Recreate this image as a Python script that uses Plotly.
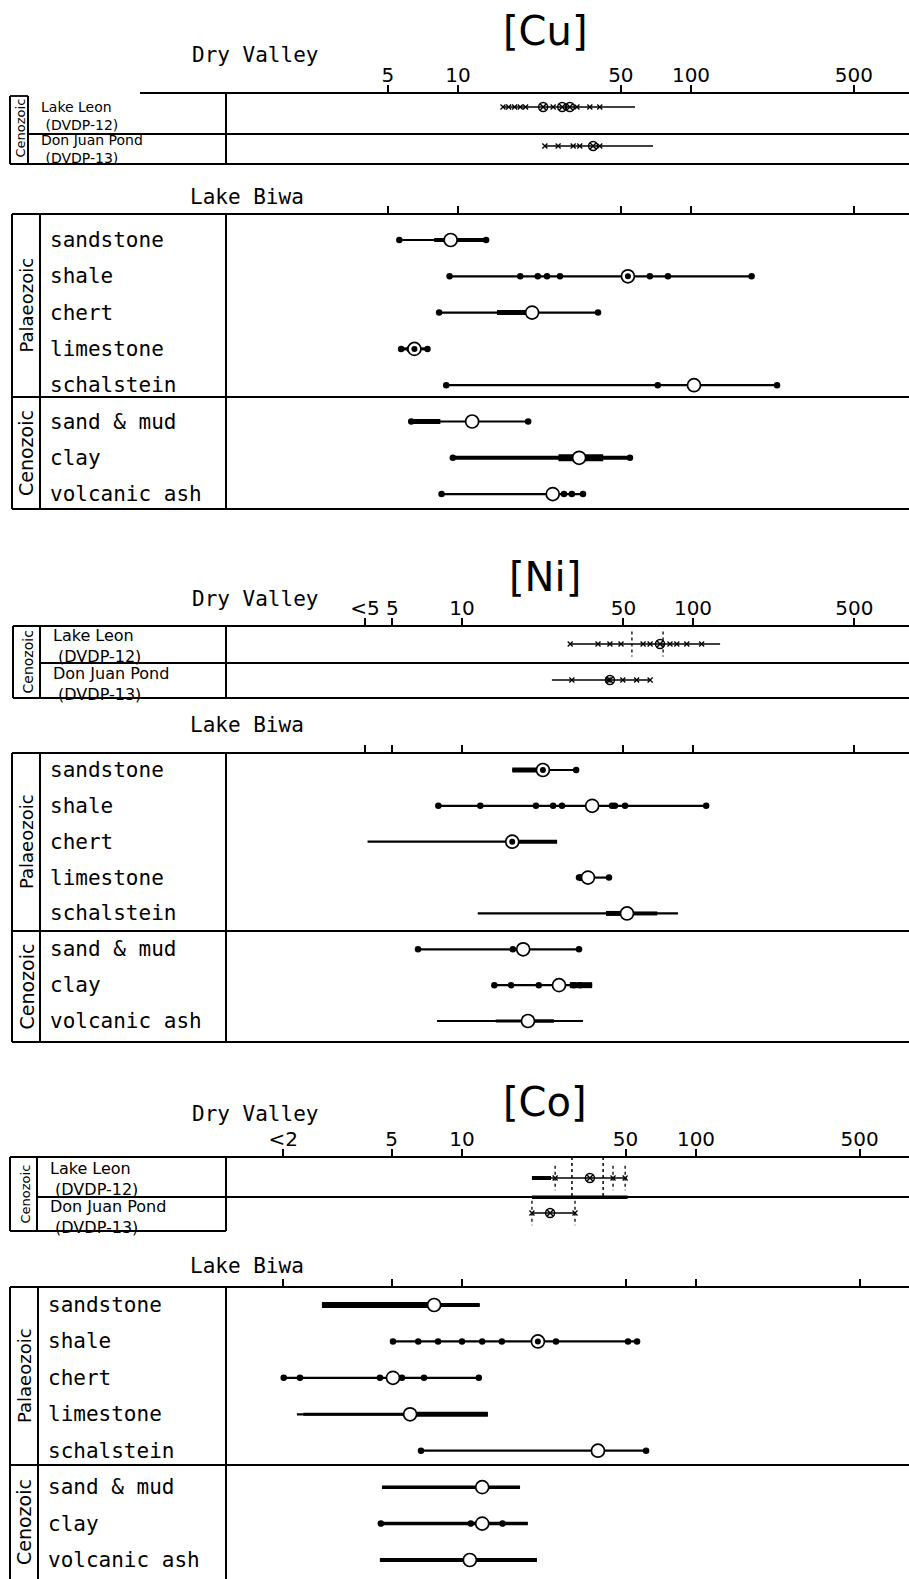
import plotly.graph_objects as go

W, H = 909, 1579
FONT = "DejaVu Sans"
MONO = "DejaVu Sans Mono"

# ---------------- data ----------------
LB_ROWS = ["sandstone", "shale", "chert", "limestone", "schalstein",
           "sand &amp; mud", "clay", "volcanic ash"]
DV_ROWS = ["Lake Leon", "Don Juan Pond"]
DV_CODES = ["(DVDP-12)", "(DVDP-13)"]
TITLES = ["[Cu]", "[Ni]", "[Co]"]

CU_TICKVALS = [5, 10, 50, 100, 500]
CU_TICKTEXT = ["5", "10", "50", "100", "500"]
NI_TICKVALS = [3.8, 5, 10, 50, 100, 500]
NI_TICKTEXT = ["<5", "5", "10", "50", "100", "500"]
CO_TICKVALS = [1.72, 5, 10, 50, 100, 500]
CO_TICKTEXT = ["<2", "5", "10", "50", "100", "500"]

# Lake Biwa, Cu (ppm)
CU_MIN = [5.6, 9.2, 8.3, 5.7, 8.9, 6.3, 9.5, 8.5]
CU_MAX = [13.2, 182, 39.9, 7.4, 234, 20.0, 54.7, 34.4]
CU_MEAN = [9.3, 53.6, 20.8, 6.5, 103, 11.5, 33.1, 25.5]
CU_DOTS = [[5.6, 13.2], [9.2, 18.5, 22.0, 24.1, 27.4, 66.6, 79.6, 182],
           [8.3, 39.9], [5.7, 6.2, 7.4], [8.9, 72, 234], [6.3, 20.0],
           [9.5, 54.7], [8.5, 28.5, 30.8, 34.4]]
CU_THICK = [[(7.9, 9.3, 4), (9.9, 13.2, 4)], [], [(14.7, 20.8, 5)], [(5.7, 7.4, 3)],
            [], [(6.3, 8.4, 5)], [(9.5, 54.7, 4), (27, 42, 7)], []]
CU_CORE = [False, True, False, True, False, False, False, False]

# Lake Biwa, Ni (ppm)
NI_MIN = [16.5, 7.9, 3.9, 32.1, 11.7, 6.45, 13.8, 7.8]
NI_MAX = [31.2, 114, 25.8, 43.3, 86.1, 32.1, 36.6, 33.4]
NI_MEAN = [22.4, 36.6, 16.5, 35.1, 51.8, 18.4, 26.3, 19.3]
NI_DOTS = [[31.2], [7.9, 12.0, 20.9, 24.8, 27.1, 44.6, 45.9, 50.8, 114], [],
           [32.1, 43.3], [], [6.45, 16.6, 32.1], [13.8, 16.3, 21.5, 30.5, 32.5], []]
NI_THICK = [[(16.5, 22.4, 5)], [], [(16.5, 25.8, 4)], [(32.1, 33.6, 7)],
            [(42, 51.8, 5), (51.8, 70, 4)], [], [(29.3, 36.6, 6)],
            [(14, 19.3, 3), (19.3, 25, 3.5)]]
NI_CORE = [True, False, True, False, False, False, False, False]

# Lake Biwa, Co (ppm)
CO_MIN = [2.52, 5.07, 1.73, 1.97, 6.68, 4.55, 4.5, 4.46]
CO_MAX = [11.9, 56.0, 11.8, 12.9, 61.2, 17.7, 19.1, 20.9]
CO_MEAN = [7.6, 21.1, 5.07, 6.0, 38.1, 12.2, 12.2, 10.8]
CO_DOTS = [[], [5.07, 6.5, 7.9, 10, 12.2, 14.8, 25.2, 51.2, 56.0],
           [1.73, 2.03, 4.46, 5.54, 6.88, 11.8], [], [6.68, 61.2], [],
           [4.5, 10.9, 14.9], []]
CO_THICK = [[(2.52, 7.6, 6), (7.6, 11.9, 4)], [], [], [(6.0, 12.9, 5), (2.1, 6.0, 3)],
            [], [(4.55, 17.7, 3.5)], [(4.5, 19.1, 3.5)], [(4.46, 10.8, 4), (10.8, 20.9, 4)]]
CO_CORE = [False, True, False, False, False, False, False, False]

# Dry Valley
CU_DV_MIN = [15.6, 23.6]
CU_DV_MAX = [57.5, 68.7]
CU_DV_MARKS = [[15.6, 16.5, 17.5, 18.5, 19.5, 25.6, 32.4, 36.8, 40.6],
               [23.6, 26.9, 31.2, 33.3, 40.6]]
CU_DV_BLOB = [[23.2, 28.0, 30.2], [38.0]]
CU_DV_VLINES = [[], []]

NI_DV_MIN = [29.4, 24.5]
NI_DV_MAX = [131, 65.2]
NI_DV_MARKS = [[29.4, 38.8, 43.7, 48.8, 60.8, 65.2, 79.5, 85.1, 94.0, 109],
               [29.9, 42.9, 49.7, 57.0, 65.2]]
NI_DV_BLOB = [[72.0], [43.7]]
NI_DV_VLINES = [[54.4, 74.2], []]

CO_DV_MIN = [19.9, 19.9]
CO_DV_MAX = [50.7, 30.4]
CO_DV_MARKS = [[25.0, 44.2, 49.8], [19.9, 30.4]]
CO_DV_BLOB = [[35.2], [23.8]]
CO_DV_VLINES = [[25.0, 44.2, 49.8], [19.9, 30.4]]
CO_DV_LONG = [29.5, 40.1]
CO_DV_SEP = [19.9, 51.0]

# ---------------- layout geometry (pixels) ----------------
PANELS = [
    dict(title_y=31, p10=458, s=233,
         dv=dict(top=93, bot=164, r0=107, step=39, label_y=55,
                 groups_y=[116, 149], font=14, left=10, inner=28,
                 mid=134, top_from=140, bot_to=W, era_size=13),
         lb=dict(top=214, bot=509, r0=240, step=36.3, label_y=197, sep=397,
                 left=12, inner=40),
         ticks=(CU_TICKVALS, CU_TICKTEXT),
         lbdata=(CU_MIN, CU_MAX, CU_MEAN, CU_DOTS, CU_THICK, CU_CORE),
         dvdata=(CU_DV_MIN, CU_DV_MAX, CU_DV_MARKS, CU_DV_BLOB, CU_DV_VLINES)),
    dict(title_y=577, p10=462, s=231,
         dv=dict(top=626, bot=698, r0=644, step=36, label_y=599,
                 groups_y=[646, 684], font=16, left=13, inner=40,
                 mid=663, top_from=13, bot_to=W, era_size=14),
         lb=dict(top=753, bot=1042, r0=770, step=35.86, label_y=725, sep=931,
                 left=12, inner=40),
         ticks=(NI_TICKVALS, NI_TICKTEXT),
         lbdata=(NI_MIN, NI_MAX, NI_MEAN, NI_DOTS, NI_THICK, NI_CORE),
         dvdata=(NI_DV_MIN, NI_DV_MAX, NI_DV_MARKS, NI_DV_BLOB, NI_DV_VLINES)),
    dict(title_y=1102, p10=462, s=234,
         dv=dict(top=1157, bot=1231, r0=1178, step=35, label_y=1114,
                 groups_y=[1179, 1217], font=16, left=10, inner=37,
                 mid=1197, top_from=10, bot_to=226, era_size=13),
         lb=dict(top=1287, bot=1579, r0=1305, step=36.43, label_y=1266, sep=1465,
                 left=10, inner=38),
         ticks=(CO_TICKVALS, CO_TICKTEXT),
         lbdata=(CO_MIN, CO_MAX, CO_MEAN, CO_DOTS, CO_THICK, CO_CORE),
         dvdata=(CO_DV_MIN, CO_DV_MAX, CO_DV_MARKS, CO_DV_BLOB, CO_DV_VLINES)),
]

fig = go.Figure()
axes = {}
shapes = []
annotations = []


def hline(y, x0, x1, w=2):
    shapes.append(dict(type="line", xref="paper", yref="paper", x0=x0 / W, x1=x1 / W,
                       y0=1 - y / H, y1=1 - y / H, line=dict(color="black", width=w)))


def vline(x, y0, y1, w=2):
    shapes.append(dict(type="line", xref="paper", yref="paper", x0=x / W, x1=x / W,
                       y0=1 - y0 / H, y1=1 - y1 / H, line=dict(color="black", width=w)))


def text(x, y, s, size, anchor="center", angle=0, family=FONT):
    annotations.append(dict(xref="paper", yref="paper", x=x / W, y=1 - y / H, text=s,
                            showarrow=False, xanchor=anchor, yanchor="middle",
                            align="left", textangle=angle,
                            font=dict(family=family, size=size, color="black")))


def add_axes(k, p10, s, g, tickvals, ticktext, labels):
    L0 = 1 + (226 - p10) / s
    L1 = 1 + (W - p10) / s
    sfx = "" if k == 1 else str(k)
    axes["xaxis" + sfx] = dict(type="log", range=[L0, L1], domain=[226 / W, 1],
                               anchor="y" + sfx, side="top", showgrid=False,
                               zeroline=False, showline=False, ticks="outside",
                               ticklen=7, tickwidth=1.5, tickcolor="black",
                               tickmode="array", tickvals=tickvals, ticktext=ticktext,
                               showticklabels=labels, ticklabelstandoff=-5,
                               tickfont=dict(family=FONT, size=20, color="black"),
                               fixedrange=True)
    axes["yaxis" + sfx] = dict(domain=[max(0, 1 - g["bot"] / H), 1 - g["top"] / H],
                               range=[(g["bot"] - g["r0"]) / g["step"],
                                      (g["top"] - g["r0"]) / g["step"]],
                               anchor="x" + sfx, visible=False, fixedrange=True)
    return "x" + sfx, "y" + sfx


def seg(xr, yr, x, y, w, dash=None):
    fig.add_trace(go.Scatter(x=x, y=y, mode="lines", xaxis=xr, yaxis=yr,
                             line=dict(color="black", width=w, dash=dash),
                             hoverinfo="skip", showlegend=False))


def marks(xr, yr, x, y, symbol, size, color="black", lw=0, lc="black"):
    fig.add_trace(go.Scatter(x=x, y=y, mode="markers", xaxis=xr, yaxis=yr,
                             marker=dict(symbol=symbol, size=size, color=color,
                                         line=dict(width=lw, color=lc)),
                             hoverinfo="skip", showlegend=False))


k = 1
for pi, P in enumerate(PANELS):
    dv, lb = P["dv"], P["lb"]
    tv, tt = P["ticks"]
    # titles and headings
    text(545, P["title_y"], TITLES[pi], 40)
    text(255, dv["label_y"], "Dry Valley", 21, family=MONO)
    text(247, lb["label_y"], "Lake Biwa", 21, family=MONO)

    # ---- Dry Valley subplot ----
    xr, yr = add_axes(k, P["p10"], P["s"], dv, tv, tt, True)
    k += 1
    mn, mx, mk, bl, vl = P["dvdata"]
    for i in range(2):
        seg(xr, yr, [mn[i], mx[i]], [i, i], 1.6)
        marks(xr, yr, mk[i], [i] * len(mk[i]), "x-thin", 5, lw=1.3)
        marks(xr, yr, bl[i], [i] * len(bl[i]), "circle-x-open", 9, lw=1.5, color="black")
        for v in vl[i]:
            seg(xr, yr, [v, v], [i - 0.35, i + 0.35], 1.3, dash="dot")
    if pi == 2:
        seg(xr, yr, [CO_DV_MIN[0], 24.0], [0, 0], 4)
        for v in CO_DV_LONG:
            seg(xr, yr, [v, v], [-0.6, 0.55], 1.5, dash="dot")
        seg(xr, yr, CO_DV_SEP, [0.55, 0.55], 3.5)
    # DV frame
    gap = 3 if dv["top_from"] > dv["left"] else 0
    hline(dv["top"], dv["top_from"], W, 1.8)
    if gap:
        hline(dv["top"] + gap, dv["left"], dv["inner"], 1.8)
    vline(dv["left"], dv["top"] + gap, dv["bot"], 2)
    vline(dv["inner"], dv["top"] + gap, dv["bot"], 2)
    vline(226, dv["top"], dv["bot"], 2)
    hline(dv["mid"], dv["inner"], W, 1.8)
    hline(dv["bot"], dv["left"], dv["bot_to"], 2.2)
    text((dv["left"] + dv["inner"]) / 2 + 1, (dv["top"] + dv["bot"]) / 2, "Cenozoic",
         dv["era_size"], angle=-90)
    for i in range(2):
        text(dv["inner"] + 11, dv["groups_y"][i],
             DV_ROWS[i] + "<br>\u00a0(" + DV_CODES[i][1:], dv["font"], anchor="left")

    # ---- Lake Biwa subplot ----
    xr, yr = add_axes(k, P["p10"], P["s"], lb, tv, tt, False)
    k += 1
    mn, mx, me, dots, thick, core = P["lbdata"]
    for i in range(8):
        seg(xr, yr, [mn[i], mx[i]], [i, i], 2.2)
        for a, b, w in thick[i]:
            seg(xr, yr, [a, b], [i, i], w)
        if dots[i]:
            marks(xr, yr, dots[i], [i] * len(dots[i]), "circle", 6.5)
    marks(xr, yr, me, list(range(8)), "circle", 13, color="white", lw=1.7)
    cx = [me[i] for i in range(8) if core[i]]
    cy = [i for i in range(8) if core[i]]
    marks(xr, yr, cx, cy, "circle", 6)
    # LB frame
    hline(lb["top"], lb["left"], W, 1.8)
    vline(lb["left"], lb["top"], lb["bot"], 2)
    vline(lb["inner"], lb["top"], lb["bot"], 2)
    vline(226, lb["top"], lb["bot"], 2)
    hline(lb["sep"], lb["left"], W, 2.2)
    if lb["bot"] < H:
        hline(lb["bot"], lb["left"], W, 2.2)
    ex = (lb["left"] + lb["inner"]) / 2
    text(ex, (lb["top"] + lb["sep"]) / 2, "Palaeozoic", 18, angle=-90)
    text(ex, (lb["sep"] + min(lb["bot"], H)) / 2, "Cenozoic", 19, angle=-90)
    for i, name in enumerate(LB_ROWS):
        text(lb["inner"] + 8, lb["r0"] + lb["step"] * i, name, 21, anchor="left",
             family=MONO)

fig.update_layout(width=W, height=H, margin=dict(l=0, r=0, t=0, b=0),
                  paper_bgcolor="white", plot_bgcolor="rgba(0,0,0,0)",
                  shapes=shapes, annotations=annotations, showlegend=False, **axes)
fig.write_html("out.html", config={"displayModeBar": False},
               post_script="document.body.style.margin='0';"
                           "document.body.style.overflow='hidden';")
